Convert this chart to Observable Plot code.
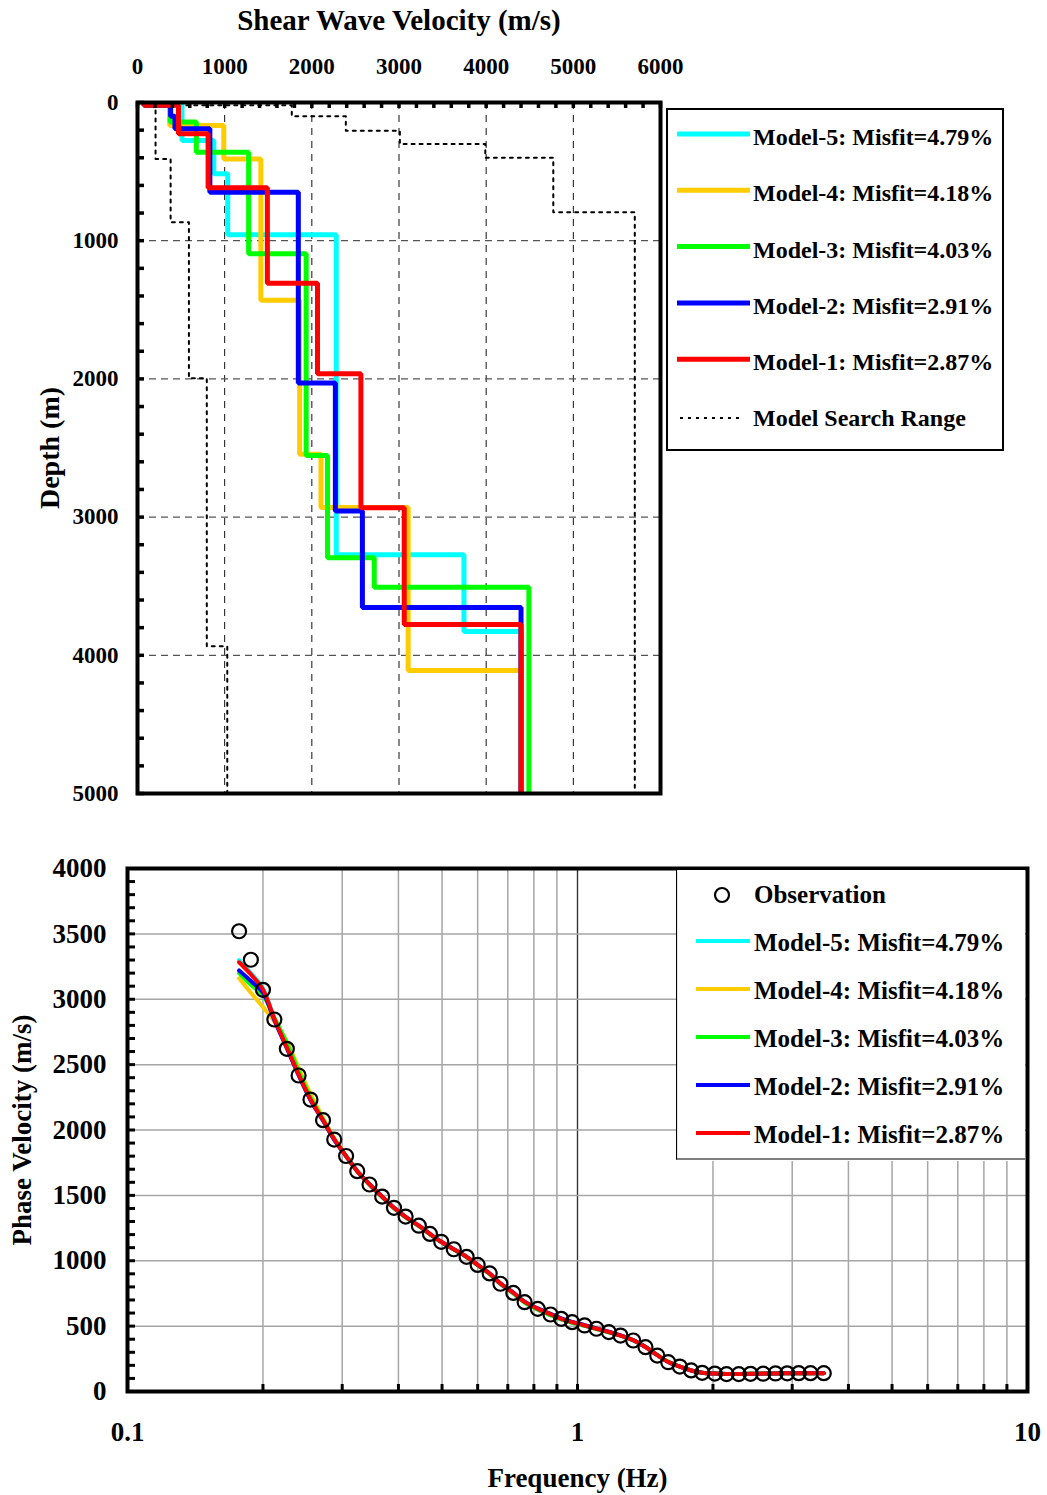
<!DOCTYPE html>
<html><head><meta charset="utf-8">
<script src="https://cdn.jsdelivr.net/npm/d3@7"></script>
<script src="https://cdn.jsdelivr.net/npm/@observablehq/plot@0.6"></script>
<style>
body{margin:0;background:#fff;}
#root{position:relative;width:1047px;height:1495px;overflow:hidden;}
#root > svg{position:absolute;}
</style></head><body><div id="root"></div>
<script>
const FONT = "'Liberation Serif','Times New Roman',serif";

// ---------- legend / series identity ----------
const modelIds = ["Model-5", "Model-4", "Model-3", "Model-2", "Model-1"];
const misfits = ["4.79%", "4.18%", "4.03%", "2.91%", "2.87%"];
const modelColors = ["#00FFFF", "#FFCC00", "#00FF00", "#0000FF", "#FF0000"];
const rangeLabel = "Model Search Range";
const obsLabel = "Observation";

// ---------- top chart: shear-wave velocity profiles ----------
const velTitle = "Shear Wave Velocity (m/s)";
const depthTitle = "Depth (m)";
const velTicks = [0, 1000, 2000, 3000, 4000, 5000, 6000];
const depthTicks = [0, 1000, 2000, 3000, 4000, 5000];
const velGrid = [1000, 2000, 3000, 4000, 5000];
const depthGrid = [1000, 2000, 3000, 4000];
const maxDepth = 5000;

// layer velocities (m/s) and layer-bottom depths (m)
const m5Vs = [75, 510, 875, 1035, 2280, 3745, 4400];
const m5Bottom = [20, 275, 516, 957, 3273, 3828];
const m4Vs = [75, 370, 990, 1415, 1860, 2105, 3105, 4400];
const m4Bottom = [20, 166, 408, 1430, 2545, 2930, 4110];
const m3Vs = [75, 375, 675, 1275, 1935, 2180, 2716, 4490];
const m3Bottom = [20, 142, 360, 1095, 2554, 3295, 3507];
const m2Vs = [75, 380, 430, 830, 1845, 2270, 2580, 4400];
const m2Bottom = [20, 100, 190, 650, 2030, 2955, 3655];
const m1Vs = [75, 470, 810, 1490, 2065, 2563, 3060, 4400];
const m1Bottom = [20, 227, 617, 1307, 1963, 2933, 3777];
const rangeMinVs = [207, 380, 590, 795, 1030];
const rangeMinBottom = [408, 866, 1995, 3935];
const rangeMaxVs = [500, 1770, 2390, 3010, 3990, 4770, 5705];
const rangeMaxBottom = [20, 100, 205, 300, 400, 795];

// ---------- bottom chart: dispersion curves ----------
const freqTitle = "Frequency (Hz)";
const phaseTitle = "Phase Velocity (m/s)";
const freqTicks = [0.1, 1, 10];
const phaseTicks = [0, 500, 1000, 1500, 2000, 2500, 3000, 3500, 4000];
const freqGrid = [0.2, 0.3, 0.4, 0.5, 0.6, 0.7, 0.8, 0.9, 1, 2, 3, 4, 5, 6, 7, 8, 9];
const phaseGrid = [500, 1000, 1500, 2000, 2500, 3000, 3500];

const freqHz = [0.177,0.188,0.200,0.212,0.226,0.240,0.255,0.272,0.288,0.306,
  0.324,0.345,0.368,0.391,0.415,0.444,0.470,0.498,0.531,0.567,
  0.600,0.638,0.674,0.720,0.763,0.816,0.871,0.920,0.973,1.037,
  1.102,1.174,1.246,1.330,1.416,1.504,1.591,1.688,1.789,1.893,
  2.019,2.144,2.283,2.424,2.586,2.754,2.924,3.102,3.295,3.526];
const obsVel = [3520,3302,3072,2845,2621,2417,2233,2075,1927,1801,
  1685,1583,1491,1405,1338,1268,1205,1145,1088,1030,
  968,903,824,754,683,632,589,556,530,505,
  480,454,428,390,339,275,224,191,161,143,
  137,133,133,135,136,138,139,140,140,140];
const m5Disp = [3300,3200,3085,2855,2632,2425,2235,2075,1928,1800,
  1684,1583,1489,1404,1334,1266,1204,1144,1087,1029,
  967,900,823,752,682,628,586,552,527,503,
  479,453,427,391,341,279,227,191,161,144,
  137,134,134,135,137,138,139,140,140,140];
const m4Disp = [3160,3050,2940,2830,2675,2475,2275,2092,1936,1802,
  1684,1582,1488,1404,1334,1266,1204,1144,1087,1029,
  967,900,824,753,683,630,588,555,529,504,
  479,454,428,392,341,279,227,191,161,144,
  137,134,134,135,137,138,139,140,140,140];
const m3Disp = [3200,3110,3030,2860,2665,2450,2250,2082,1932,1803,
  1686,1583,1488,1402,1332,1264,1202,1142,1086,1028,
  966,898,822,750,680,626,584,551,526,502,
  478,452,427,392,342,280,228,192,162,144,
  137,134,134,135,137,138,139,140,140,140];
const m2Disp = [3220,3140,3050,2840,2625,2420,2230,2070,1925,1800,
  1685,1585,1490,1405,1336,1268,1205,1145,1088,1030,
  968,902,827,757,687,636,594,560,533,508,
  483,457,430,393,340,278,226,190,161,144,
  137,134,134,135,137,138,139,140,140,140];
const m1Disp = [3283,3190,3075,2850,2630,2425,2235,2075,1930,1800,
  1685,1585,1490,1405,1336,1268,1205,1145,1088,1030,
  968,902,826,755,685,632,590,556,530,505,
  480,455,428,392,340,278,226,190,161,144,
  137,134,134,135,137,138,139,140,140,140];

// ---------- build tables ----------
function stepProfile(vs, bottoms) {
  const pts = [{v: vs[0], d: 0}];
  bottoms.forEach((b, i) => { pts.push({v: vs[i], d: b}); pts.push({v: vs[i + 1], d: b}); });
  pts.push({v: vs[vs.length - 1], d: maxDepth});
  return pts;
}
const profiles = [[m5Vs, m5Bottom], [m4Vs, m4Bottom], [m3Vs, m3Bottom], [m2Vs, m2Bottom], [m1Vs, m1Bottom]]
  .map(([vs, b]) => stepProfile(vs, b));
const rangeMin = stepProfile(rangeMinVs, rangeMinBottom);
const rangeMax = stepProfile(rangeMaxVs, rangeMaxBottom);
const dispSeries = [m5Disp, m4Disp, m3Disp, m2Disp, m1Disp]
  .map(arr => arr.map((v, i) => ({f: freqHz[i], v})));
const obs = obsVel.map((v, i) => ({f: freqHz[i], v}));

const velMinor = d3.range(0, 6001, 200);
const depthMinor = d3.range(0, 5001, 200);
const phaseMinor = d3.range(0, 4001, 100);

const root = document.getElementById("root");

// ---------- top chart ----------
const T = {w: 1047, h: 830, ml: 137, mr: 387, mt: 102, mb: 37};
const tFrameW = T.w - T.ml - T.mr, tFrameH = T.h - T.mt - T.mb;
const topPlot = Plot.plot({
  width: T.w, height: T.h,
  marginLeft: T.ml, marginRight: T.mr, marginTop: T.mt, marginBottom: T.mb,
  style: {fontFamily: FONT, fontWeight: "bold", fontSize: "23px", color: "#000", background: "transparent", overflow: "visible"},
  x: {domain: [0, 6000]},
  y: {domain: [0, maxDepth], reverse: true},
  marks: [
    Plot.ruleX(velGrid, {stroke: "#111", strokeWidth: 1, strokeDasharray: "7,6"}),
    Plot.ruleY(depthGrid, {stroke: "#555", strokeWidth: 1.2, strokeDasharray: "7,5"}),
    Plot.line(rangeMin, {x: "v", y: "d", stroke: "#000", strokeWidth: 2, strokeDasharray: "3,5"}),
    Plot.line(rangeMax, {x: "v", y: "d", stroke: "#000", strokeWidth: 2, strokeDasharray: "3,5"}),
    ...profiles.map((p, i) => Plot.line(p, {x: "v", y: "d", stroke: modelColors[i], strokeWidth: 5, strokeLinejoin: "miter", strokeLinecap: "butt"})),
    Plot.ruleX(velMinor, {stroke: "#000", strokeWidth: 3.5, insetBottom: tFrameH - 6}),
    Plot.ruleY(depthMinor, {stroke: "#000", strokeWidth: 3.5, insetRight: tFrameW - 7}),
    Plot.frame({stroke: "#000", strokeWidth: 4}),
    Plot.axisX({anchor: "top", ticks: velTicks, tickSize: 0, tickPadding: 29, tickFormat: d => String(d), fontSize: 23, label: null}),
    Plot.axisY({anchor: "left", ticks: depthTicks, tickSize: 0, tickPadding: 19, tickFormat: d => String(d), fontSize: 23, label: null}),
    Plot.text([velTitle], {text: d => d, frameAnchor: "top", textAnchor: "middle", dy: -93, fontSize: 29}),
    Plot.text([depthTitle], {text: d => d, frameAnchor: "left", textAnchor: "middle", dx: -87, rotate: -90, fontSize: 28})
  ]
});
topPlot.style.left = "0px"; topPlot.style.top = "0px";
root.appendChild(topPlot);

// ---------- bottom chart ----------
const B = {w: 1047, h: 665, ml: 127, mr: 20, mt: 38, mb: 104, top: 830};
const bFrameW = B.w - B.ml - B.mr, bFrameH = B.h - B.mt - B.mb;
const botPlot = Plot.plot({
  width: B.w, height: B.h,
  marginLeft: B.ml, marginRight: B.mr, marginTop: B.mt, marginBottom: B.mb,
  style: {fontFamily: FONT, fontWeight: "bold", fontSize: "27px", color: "#000", background: "transparent", overflow: "visible"},
  x: {type: "log", domain: [0.1, 10]},
  y: {domain: [0, 4000]},
  marks: [
    Plot.ruleX(freqGrid, {stroke: "#a6a6a6", strokeWidth: 1.5}),
    Plot.ruleX([1], {stroke: "#333", strokeWidth: 1.2}),
    Plot.ruleY(phaseGrid, {stroke: "#a6a6a6", strokeWidth: 1.5}),
    ...dispSeries.map((s, i) => Plot.line(s, {x: "f", y: "v", stroke: modelColors[i], strokeWidth: 4, curve: "catmull-rom"})),
    Plot.dot(obs, {x: "f", y: "v", r: 7, stroke: "#000", strokeWidth: 2.2, fill: "none"}),
    Plot.ruleX(freqGrid, {stroke: "#000", strokeWidth: 3, insetTop: bFrameH - 7}),
    Plot.ruleY(phaseMinor, {stroke: "#000", strokeWidth: 3, insetRight: bFrameW - 8}),
    Plot.frame({stroke: "#000", strokeWidth: 4}),
    Plot.axisX({anchor: "bottom", ticks: freqTicks, tickSize: 0, tickPadding: 30, tickFormat: d => String(d), fontSize: 27, label: null}),
    Plot.axisY({anchor: "left", ticks: phaseTicks, tickSize: 0, tickPadding: 21, tickFormat: d => String(d), fontSize: 27, label: null}),
    Plot.text([freqTitle], {text: d => d, frameAnchor: "bottom", textAnchor: "middle", dy: 95, fontSize: 27}),
    Plot.text([phaseTitle], {text: d => d, frameAnchor: "left", textAnchor: "middle", dx: -105, rotate: -90, fontSize: 27})
  ]
});
botPlot.style.left = "0px"; botPlot.style.top = B.top + "px";
root.appendChild(botPlot);

// ---------- legends ----------
const legendNames = modelIds.map((m, i) => `${m}: Misfit=${misfits[i]}`);

// top legend
const lt = d3.create("svg").attr("width", 340).attr("height", 345)
  .style("left", "665px").style("top", "107px")
  .style("font-family", FONT).style("font-weight", "bold").style("font-size", "24px");
lt.append("rect").attr("x", 2).attr("y", 2).attr("width", 336).attr("height", 341)
  .attr("fill", "#fff").attr("stroke", "#000").attr("stroke-width", 2);
legendNames.forEach((name, i) => {
  const y = 27 + i * 56.3;
  lt.append("line").attr("x1", 12).attr("x2", 85).attr("y1", y).attr("y2", y)
    .attr("stroke", modelColors[i]).attr("stroke-width", 5);
  lt.append("text").attr("x", 88).attr("y", y + 11).text(name);
});
lt.append("line").attr("x1", 15).attr("x2", 76).attr("y1", 311).attr("y2", 311)
  .attr("stroke", "#000").attr("stroke-width", 2).attr("stroke-dasharray", "3,5");
lt.append("text").attr("x", 88).attr("y", 319).text(rangeLabel);
root.appendChild(lt.node());

// bottom legend
const lb = d3.create("svg").attr("width", 349).attr("height", 291)
  .style("left", "676px").style("top", "870px")
  .style("font-family", FONT).style("font-weight", "bold").style("font-size", "25px");
lb.append("rect").attr("x", 0).attr("y", 0).attr("width", 349).attr("height", 291).attr("fill", "#fff");
lb.append("line").attr("x1", 0.5).attr("x2", 0.5).attr("y1", 0).attr("y2", 289.5).attr("stroke", "#000").attr("stroke-width", 1.2);
lb.append("line").attr("x1", 0).attr("x2", 349).attr("y1", 289).attr("y2", 289).attr("stroke", "#000").attr("stroke-width", 1.2);
lb.append("circle").attr("cx", 46).attr("cy", 25).attr("r", 7).attr("fill", "none").attr("stroke", "#000").attr("stroke-width", 2.2);
lb.append("text").attr("x", 78).attr("y", 33).text(obsLabel);
legendNames.forEach((name, i) => {
  const y = 71 + i * 48;
  lb.append("line").attr("x1", 20).attr("x2", 74).attr("y1", y).attr("y2", y)
    .attr("stroke", modelColors[i]).attr("stroke-width", 4);
  lb.append("text").attr("x", 78).attr("y", y + 10).text(name);
});
root.appendChild(lb.node());
</script>
</body></html>
